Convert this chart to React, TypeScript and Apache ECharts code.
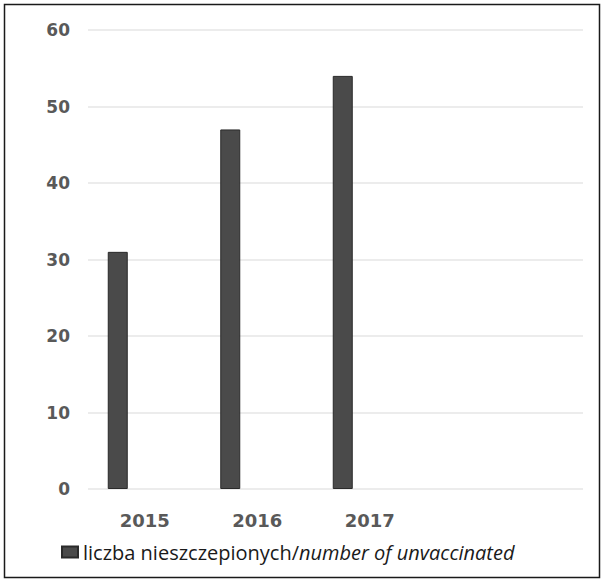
import React, { useEffect, useRef } from "react";
import * as echarts from "echarts";

const categories = ["2015", "2016", "2017", ""];
const unvaccinated = [31, 47, 54];
const yTicks = { min: 0, max: 60, interval: 10 };
const legendPl = "liczba nieszczepionych/";
const legendEn = "number of unvaccinated";

export default function App() {
  const ref = useRef<HTMLDivElement>(null);
  useEffect(() => {
    document.body.style.margin = "0";
    const chart = echarts.init(ref.current!, undefined, { renderer: "svg" });
    chart.setOption({
      animation: false,
      backgroundColor: "#ffffff",
      grid: [
        { left: 88, right: 21, top: 30, bottom: 94 },
        { left: 88.5, width: 450, top: 30, bottom: 94 },
      ],
      xAxis: [
        { type: "category", gridIndex: 0, data: categories, show: false },
        {
          type: "category",
          gridIndex: 1,
          data: categories,
          axisLine: { show: false },
          axisTick: { show: false },
          axisLabel: {
            color: "#595959",
            fontFamily: "DejaVu Sans",
            fontWeight: "bold",
            fontSize: 18,
            margin: 22,
          },
        },
      ],
      yAxis: [
        {
          type: "value",
          gridIndex: 0,
          ...yTicks,
          axisLine: { show: false },
          axisTick: { show: false },
          axisLabel: {
            color: "#595959",
            fontFamily: "DejaVu Sans",
            fontWeight: "bold",
            fontSize: 17,
            margin: 18,
          },
          splitLine: { lineStyle: { color: "#e6e6e6", width: 1.5 } },
        },
        { type: "value", gridIndex: 1, ...yTicks, show: false, splitLine: { show: false } },
      ],
      legend: {
        left: 56,
        top: 537,
        itemWidth: 16,
        itemHeight: 11,
        itemGap: 10,
        data: [{ name: "unvaccinated", icon: "rect" }],
        formatter: () => `{a|${legendPl}}{b|${legendEn}}`,
        textStyle: {
          rich: {
            a: { fontFamily: "Open Sans", fontSize: 20, color: "#1a1a1a" },
            b: { fontFamily: "Open Sans", fontSize: 20, fontStyle: "italic", color: "#1a1a1a" },
          },
        },
      },
      graphic: [
        {
          type: "rect",
          shape: { x: 4.5, y: 4.5, width: 595, height: 573 },
          style: { fill: "none", stroke: "#1a1a1a", lineWidth: 1.5 },
          silent: true,
        },
      ],
      series: [
        {
          name: "unvaccinated",
          type: "bar",
          xAxisIndex: 1,
          yAxisIndex: 1,
          data: unvaccinated,
          barWidth: 20,
          barGap: "170%",
          itemStyle: { color: "#4a4a4a", borderColor: "#2a2a2a", borderWidth: 1 },
        },
        {
          name: "spacer",
          type: "bar",
          xAxisIndex: 1,
          yAxisIndex: 1,
          data: [],
          barWidth: 20,
        },
      ],
    });
    return () => chart.dispose();
  }, []);
  return <div ref={ref} style={{ width: 604, height: 583 }} />;
}
